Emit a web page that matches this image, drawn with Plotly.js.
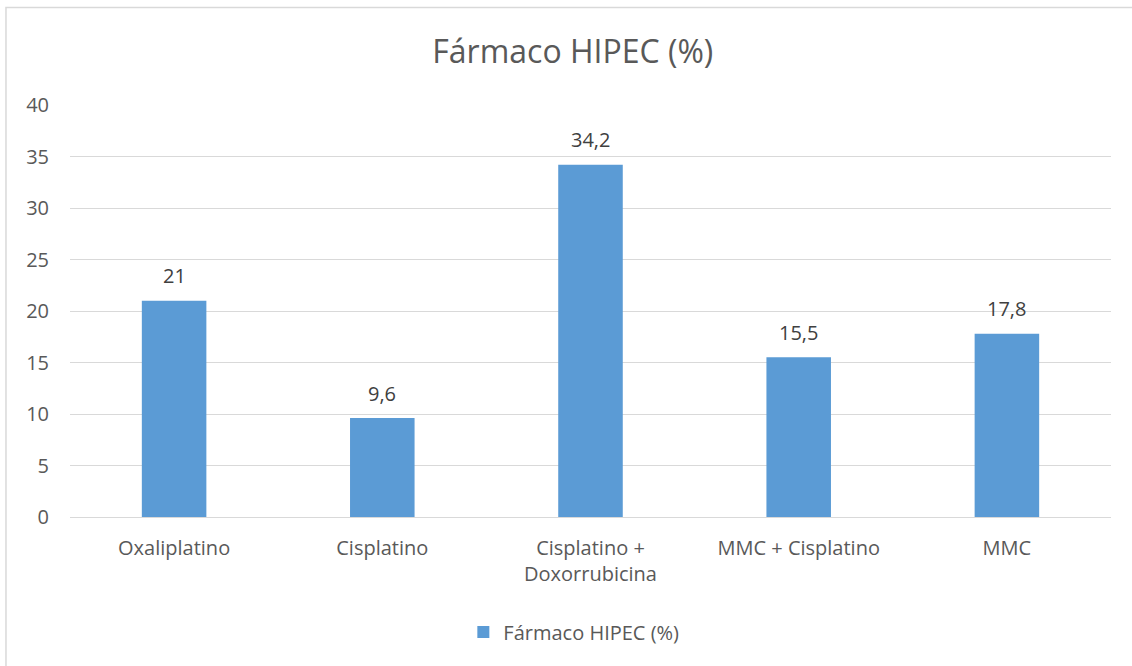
<!DOCTYPE html>
<html>
<head>
<meta charset="utf-8">
<script src="https://cdn.plot.ly/plotly-3.0.1.min.js"></script>
<style>
html,body{margin:0;padding:0;background:#fff;}
#chart{width:1132px;height:666px;}
</style>
</head>
<body>
<div id="chart"></div>
<script>
const categories = ["Oxaliplatino", "Cisplatino", "Cisplatino +<br>Doxorrubicina", "MMC + Cisplatino", "MMC"];
const values = [21, 9.6, 34.2, 15.5, 17.8];
const seriesName = "Fármaco HIPEC (%)";
const chartTitle = "Fármaco HIPEC (%)";
const yTicks = [0, 5, 10, 15, 20, 25, 30, 35, 40];

const fontFam = "'Open Sans', 'Liberation Sans', sans-serif";
const fmt = v => String(v).replace('.', ',');

const trace = {
  type: 'bar',
  x: categories,
  y: values,
  name: seriesName,
  marker: {color: '#5B9BD5'},
  showlegend: true
};

const labelAnnotations = categories.map((c, i) => ({
  x: c, y: values[i], xref: 'x', yref: 'y',
  text: fmt(values[i]),
  showarrow: false,
  yanchor: 'middle',
  yshift: 25,
  font: {family: fontFam, size: 20, color: '#404040'}
}));

const layout = {
  width: 1132,
  height: 666,
  margin: {l: 70, r: 21, t: 105, b: 149},
  paper_bgcolor: '#ffffff',
  plot_bgcolor: '#ffffff',
  separators: ',.',
  bargap: 0.69,
  title: {
    text: chartTitle,
    font: {family: fontFam, size: 32, color: '#595959'},
    x: 0.506, xanchor: 'center',
    y: 0.922, yanchor: 'middle'
  },
  xaxis: {
    type: 'category',
    tickfont: {family: fontFam, size: 20, color: '#595959'},
    showline: false,
    ticks: 'outside',
    ticklen: 13,
    tickcolor: 'rgba(0,0,0,0)',
    showgrid: false
  },
  yaxis: {
    range: [0, 40],
    tickvals: yTicks,
    ticktext: yTicks.map(String),
    tickfont: {family: fontFam, size: 20, color: '#595959'},
    showgrid: true,
    gridcolor: '#D9D9D9',
    gridwidth: 1,
    zeroline: true,
    zerolinecolor: '#D9D9D9',
    zerolinewidth: 1,
    showline: false,
    ticks: 'outside',
    ticklen: 16,
    tickcolor: 'rgba(0,0,0,0)'
  },
  showlegend: true,
  legend: {
    orientation: 'h',
    x: 0.484, xanchor: 'center',
    y: -0.279, yanchor: 'middle',
    font: {family: fontFam, size: 20, color: '#595959'},
    itemwidth: 30
  },
  annotations: labelAnnotations,
  shapes: [{
    type: 'rect',
    xref: 'paper', yref: 'paper',
    x0: -0.0615, x1: 1.03,
    y0: -0.38, y1: 1.2367,
    line: {color: '#D9D9D9', width: 1.5},
    fillcolor: 'rgba(0,0,0,0)',
    layer: 'below'
  }]
};

Plotly.newPlot('chart', [trace], layout, {displayModeBar: false, staticPlot: true});
</script>
</body>
</html>
